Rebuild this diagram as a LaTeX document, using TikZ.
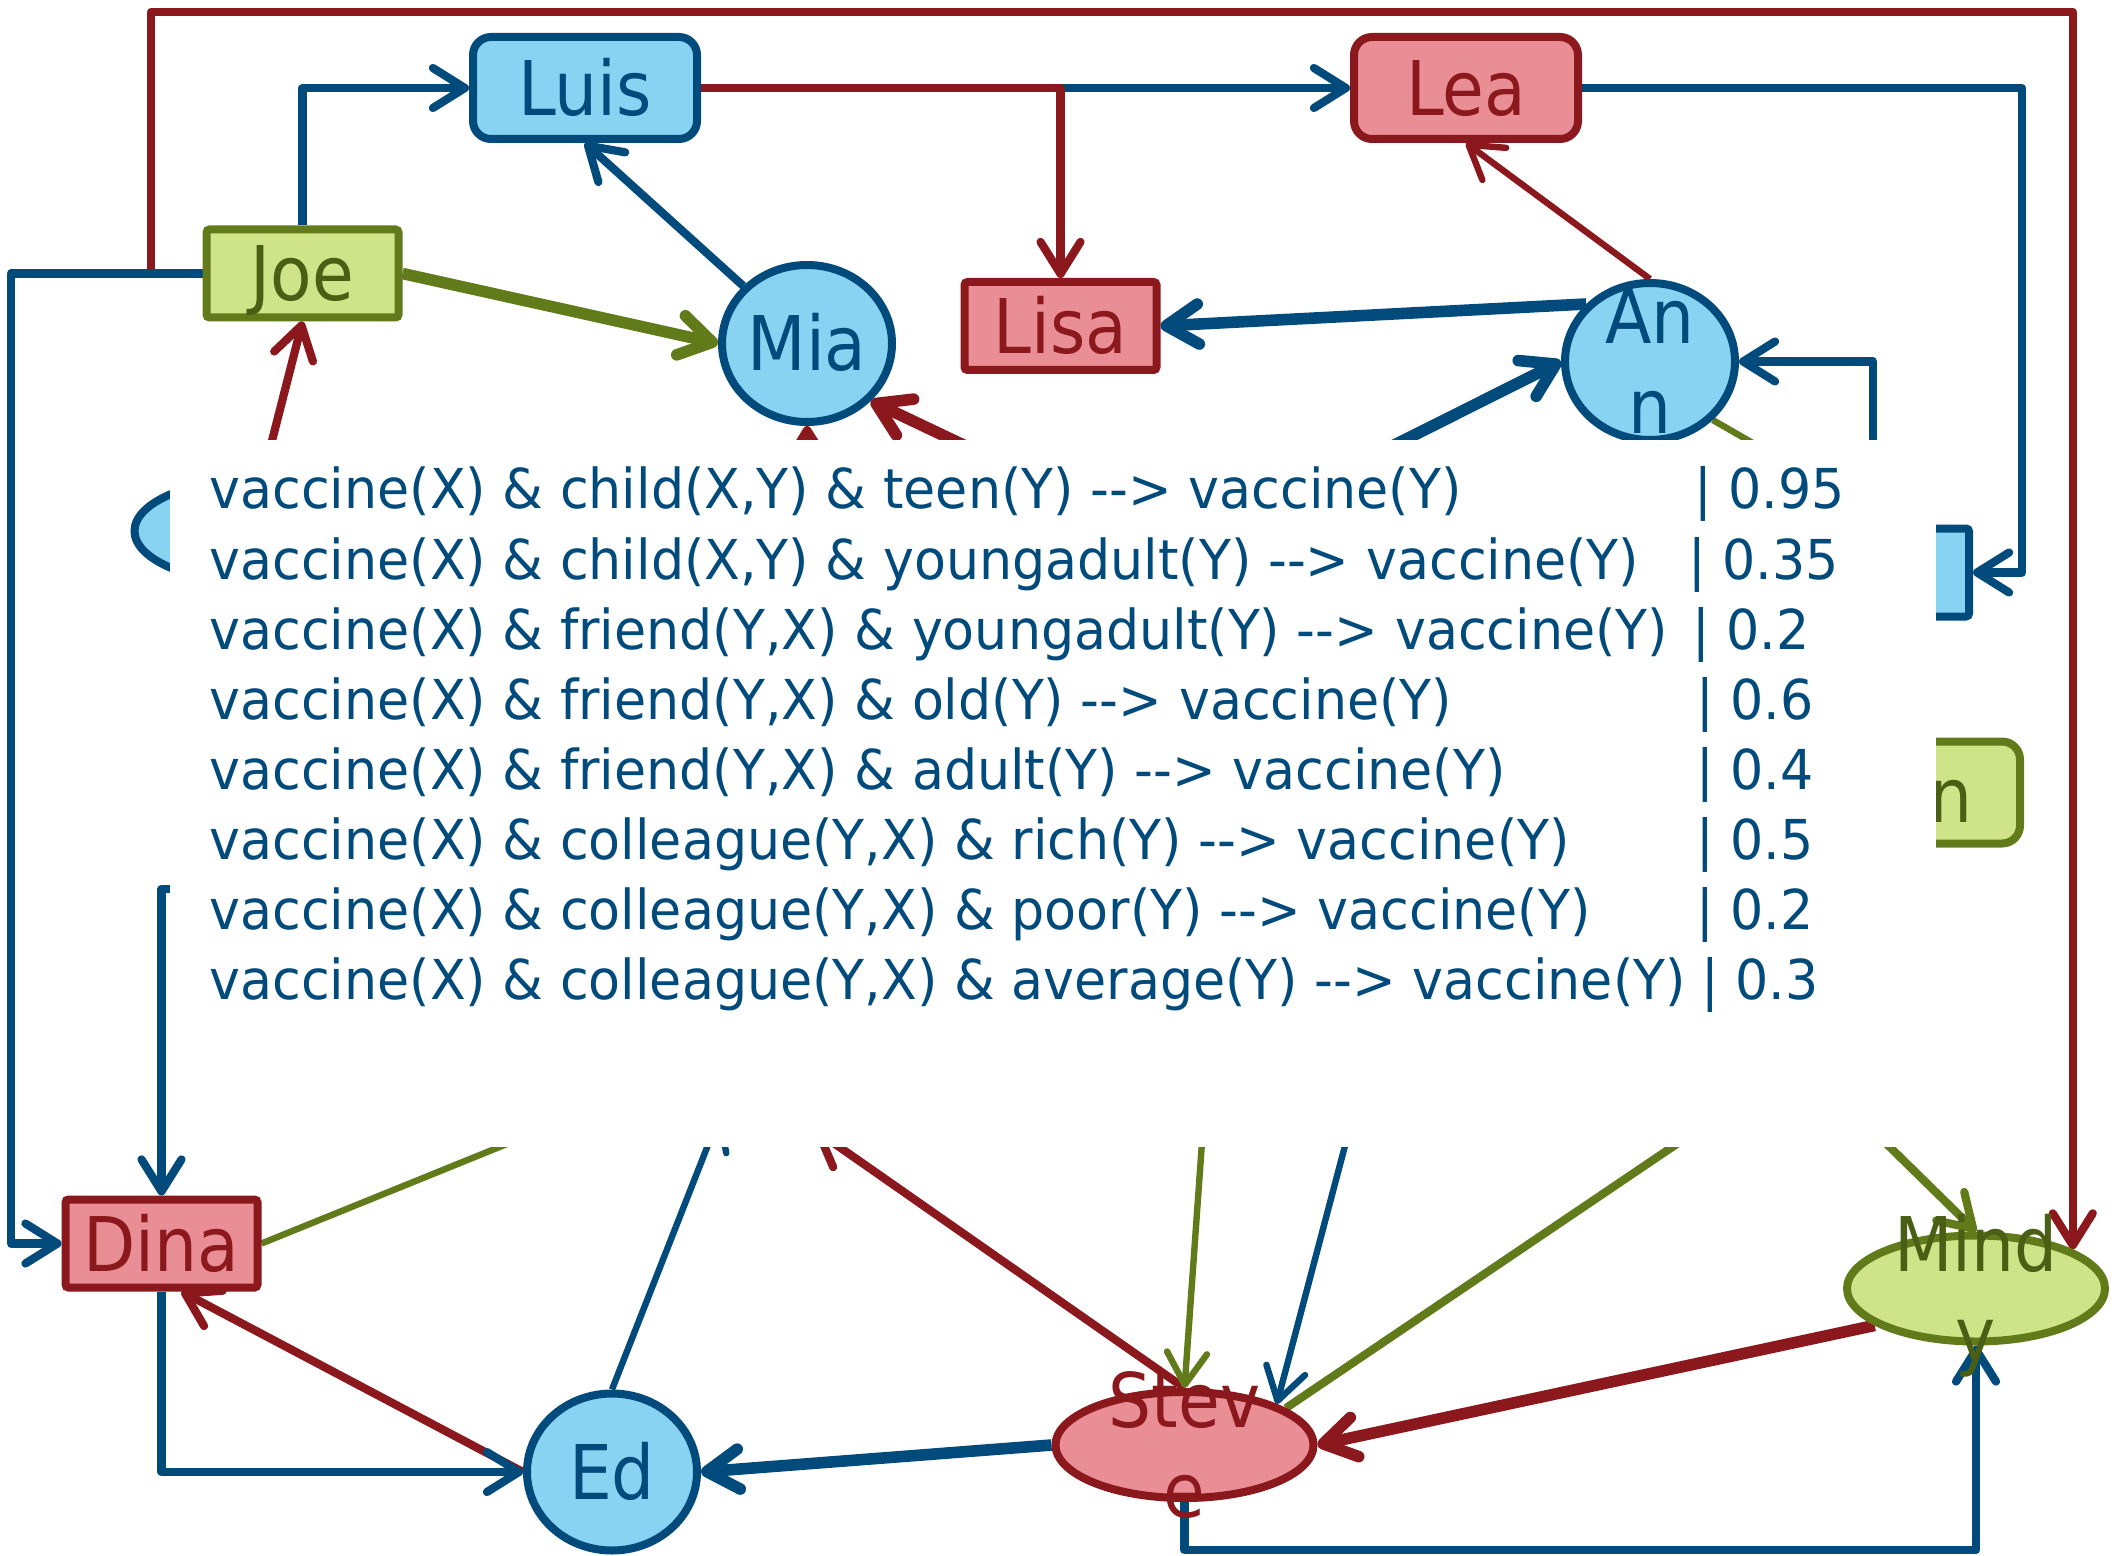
\documentclass[tikz,border=0pt]{standalone}
\usepackage{fontspec}
\usetikzlibrary{arrows.meta,shapes.geometric}
\newfontfamily\lblfont[FakeStretch=0.9]{DejaVu Sans}
\newfontfamily\rulefont[FakeStretch=0.95]{DejaVu Sans}
\definecolor{dblue}{RGB}{0,74,124}
\definecolor{lblue}{RGB}{135,211,241}
\definecolor{dred}{RGB}{139,24,29}
\definecolor{rosefill}{RGB}{233,142,149}
\definecolor{oliveline}{RGB}{97,123,27}
\definecolor{lgreen}{RGB}{207,227,136}
\definecolor{olivetext}{RGB}{75,95,20}
\pgfdeclarelayer{edges}
\pgfdeclarelayer{front}
\pgfsetlayers{edges,main,front}
\tikzset{
  lblfnt/.style={font=\lblfont\fontsize{37.7pt}{45pt}\selectfont, text height=27.5pt, text depth=0pt},
  nodebase/.style={draw, line width=4pt, inner sep=0pt, lblfnt},
  sqbox/.style={nodebase, rectangle, rounded corners=1.5pt, minimum width=96pt, minimum height=44pt},
  rbox/.style={nodebase, rectangle, rounded corners=9pt, minimum width=112pt, minimum height=51pt},
  circ/.style={nodebase, ellipse, minimum width=85pt, minimum height=78.5pt},
  oval/.style={nodebase, ellipse, minimum width=129pt, minimum height=53pt},
  cb/.style={fill=lblue, draw=dblue, text=dblue},
  cr/.style={fill=rosefill, draw=dred, text=dred},
  cg/.style={fill=lgreen, draw=oliveline, text=olivetext},
  lbl/.style={lblfnt, inner sep=0pt},
  link/.style={line join=round},
  eb/.style={link, draw=dblue},
  er/.style={link, draw=dred},
  eg/.style={link, draw=oliveline},
  wthin/.style={line width=3.2pt},
  wmid/.style={line width=4.1pt},
  wthick/.style={line width=5.8pt},
  arr/.style={-{Straight Barb[length=16pt,width=20pt,round]}},
  rulet/.style={font=\rulefont\fontsize{27.5pt}{35pt}\selectfont, text=dblue, inner sep=0pt, anchor=base west}
}
\begin{document}
\begin{tikzpicture}[x=0.5pt,y=-0.5pt]
\useasboundingbox (0,0) rectangle (2125,1556);

% people
\node[rbox, cb] (Luis) at (585,88) {Luis};
\node[rbox, cr] (Lea) at (1466,88) {Lea};
\node[sqbox, cg] (Joe) at (302.5,273.5) {Joe};
\node[circ, cb] (Mia) at (807,343.5) {};
\node[sqbox, cr] (Lisa) at (1060.5,326) {Lisa};
\node[circ, cb] (Ann) at (1650,361.5) {};
\node[oval, cb] (X1) at (263.5,531) {};
\node[sqbox, cb] (R1) at (1873,572.5) {};
\node[rbox, cg] (R2) at (1908,792.5) {};
\node[oval, cb] (G1) at (815,1073) {};
\node[sqbox, cg] (R3) at (1801,1012) {};
\node[sqbox, cr] (Dina) at (161.5,1243.5) {Dina};
\node[circ, cb] (Ed) at (612,1472) {};
\node[oval, cr] (Steve) at (1184.5,1445) {};
\node[oval, cg] (Mindy) at (1976,1288.5) {};

% labels of the round nodes
\node[lbl, text=dblue] (Mia-t) at (Mia) {Mia};
\node[lbl, text=dblue] (Ed-t) at (Ed) {Ed};
\node[lbl, text=dblue, anchor=base] (Ann-a) at (1650,344) {An};
\node[lbl, text=dblue, anchor=base] (Ann-b) at (1650,434) {n};
\node[lbl, text=dred, anchor=base] (Steve-a) at (1184.5,1427.5) {Stev};
\node[lbl, text=dred, anchor=base] (Steve-b) at (1184.5,1517.5) {e};
\node[lbl, text=olivetext, anchor=base] (Mindy-a) at (1976,1271) {Mind};
\node[lbl, text=olivetext, anchor=base] (Mindy-b) at (1976,1361) {y};
\node[lbl, text=olivetext, anchor=base east] (R2-t) at (1973,822) {n};

% routing points
\coordinate (leftrail) at (11,0);
\coordinate (rightrail) at (2022,0);
\coordinate (toprail) at (151,12);
\coordinate (botrail) at (0,1550);
\coordinate (H) at (300,889);
\coordinate (annsrc) at (1165,560);
\coordinate (miasrc) at (1117,518);
\coordinate (annsink) at (1852,500);
\coordinate (stevesrcG) at (1223,847);
\coordinate (stevesrcB) at (1424,847);

\begin{pgfonlayer}{edges}
% red
\draw[er, wmid, arr] (Joe.west) -| (toprail) -| (Mindy.22);
\draw[er, wmid, arr] (X1.north) -- (Joe.south);
\draw[er, wmid, arr] (G1.north) -- (Mia.south);
\draw[er, wthick, arr] (miasrc) -- (Mia.-42);
\draw[er, wthin, arr] (Ann.north) -- (Lea.south);
\draw[er, wmid, arr] (Ed.west) -- ([xshift=10pt]Dina.south);
\draw[er, wmid, arr] (Steve.north) -- (G1.south);
\draw[er, wthick, arr] (Mindy.200) -- (Steve.east);
% blue
\draw[eb, wmid, arr] (Joe.north) |- (Luis.west);
\draw[eb, wmid, arr] (Joe.west) -- (Joe.west -| leftrail) |- (Dina.west);
\draw[eb, wmid, arr] (Mia) -- (Luis.south);
\draw[eb, wmid, arr] (Luis.east) -- (Lea.west);
\draw[er, wmid, arr] (Luis.east) -| (Lisa.north);
\draw[eb, wmid, arr] (Lea.east) -- (Lea.east -| rightrail) |- (R1.east);
\draw[eb, wthick, arr] (Ann.138) -- (Lisa.east);
\draw[eb, wthick, arr] (annsrc) -- (Ann.west);
\draw[eb, wmid, arr] (R1.north) |- (Ann.east);
\draw[eb, wmid, arr] (H) -| (Dina.north);
\draw[eb, wmid, arr] (Dina.south) |- (Ed.west);
\draw[eb, wthin, arr] (Ed.north) -- (G1.203);
\draw[eb, wthick, arr] (Steve.west) -- (Ed.east);
\draw[eb, wmid, arr] (Steve.south) -- (Steve.south |- botrail) -| (Mindy.south);
\draw[eb, wthin, arr] (stevesrcB) -- (Steve.24);
% green
\draw[eg, wthick, arr] (Joe.east) -- (Mia.west);
\draw[eg, wthin] (Ann.-43) -- (annsink);
\draw[eg, wthin] (Dina.east) -- (G1.west);
\draw[eg, wthin, arr] (stevesrcG) -- (Steve.north);
\draw[eg, wmid] (R3.south) -- (Steve.20);
\draw[eg, wmid, arr] (R3.south) -- (Mindy.north);
\end{pgfonlayer}

\begin{pgfonlayer}{front}
\node[fill=white, inner sep=0pt, minimum width=883pt, minimum height=353.5pt, anchor=north west] (panel) at (170,440) {};
\node[rulet] (r1) at (209,509) {vaccine(X) \& child(X,Y) \& teen(Y) -{}-> vaccine(Y)};
\node[rulet] (r2) at (209,579) {vaccine(X) \& child(X,Y) \& youngadult(Y) -{}-> vaccine(Y)};
\node[rulet] (r3) at (209,649) {vaccine(X) \& friend(Y,X) \& youngadult(Y) -{}-> vaccine(Y)};
\node[rulet] (r4) at (209,719) {vaccine(X) \& friend(Y,X) \& old(Y) -{}-> vaccine(Y)};
\node[rulet] (r5) at (209,789) {vaccine(X) \& friend(Y,X) \& adult(Y) -{}-> vaccine(Y)};
\node[rulet] (r6) at (209,859) {vaccine(X) \& colleague(Y,X) \& rich(Y) -{}-> vaccine(Y)};
\node[rulet] (r7) at (209,929) {vaccine(X) \& colleague(Y,X) \& poor(Y) -{}-> vaccine(Y)};
\node[rulet] (r8) at (209,999) {vaccine(X) \& colleague(Y,X) \& average(Y) -{}-> vaccine(Y)};
\node[rulet] (w1) at (1694,509) {| 0.95};
\node[rulet] (w2) at (1688,579) {| 0.35};
\node[rulet] (w3) at (1692,649) {| 0.2};
\node[rulet] (w4) at (1696,719) {| 0.6};
\node[rulet] (w5) at (1696,789) {| 0.4};
\node[rulet] (w6) at (1696,859) {| 0.5};
\node[rulet] (w7) at (1696,929) {| 0.2};
\node[rulet] (w8) at (1701,999) {| 0.3};
\end{pgfonlayer}
\end{tikzpicture}
\end{document}
